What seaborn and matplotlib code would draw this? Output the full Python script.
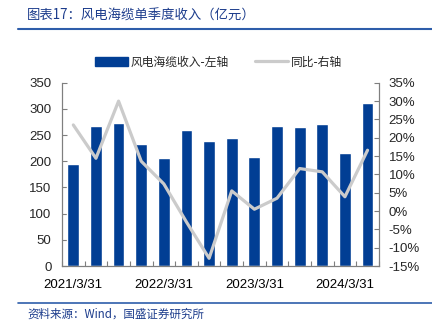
import matplotlib
matplotlib.use("Agg")
import matplotlib.pyplot as plt
import matplotlib.ticker as mticker
from matplotlib.lines import Line2D
from matplotlib.patches import Patch
import seaborn as sns
import pandas as pd
import numpy as np

# Quarterly offshore wind cable revenue (亿元) and YoY growth (%)
quarters = ["2021/3/31", "2021/6/30", "2021/9/30", "2021/12/31",
            "2022/3/31", "2022/6/30", "2022/9/30", "2022/12/31",
            "2023/3/31", "2023/6/30", "2023/9/30", "2023/12/31",
            "2024/3/31", "2024/6/30"]
revenue = [194, 267, 273, 233, 207, 259, 238, 245, 209, 268, 265, 271, 216, 311]
yoy_pct = [23.5, 14.4, 30.0, 13.6, 7.4, -3.0, -12.9, 5.5, 0.5, 3.5, 11.6, 10.7, 3.9, 16.6]
shown_labels = ["2021/3/31", "2022/3/31", "2023/3/31", "2024/3/31"]

bar_color = "#013E94"
line_color = "#CBCBCB"
title_color = "#1C3C8C"
rule_color = "#2E5DAA"
spine_color = "#7F7F7F"

sns.set_theme(style="white")
plt.rcParams["font.family"] = ["Liberation Sans", "Noto Sans CJK SC", "DejaVu Sans"]
cjk = ["Noto Sans CJK SC", "DejaVu Sans"]

df = pd.DataFrame({"quarter": quarters, "revenue": revenue,
                   "yoy": yoy_pct, "pos": np.arange(len(quarters))})

fig = plt.figure(figsize=(4.32, 3.26), dpi=100)
ax = fig.add_axes([0.1435, 0.184, 0.7335, 0.562])

sns.barplot(data=df, x="quarter", y="revenue", color=bar_color, width=0.52,
            saturation=1, ax=ax)
ax.set_xlim(-0.5, len(quarters) - 0.5)
ax.set_ylim(0, 350)
ax.set_yticks(np.arange(0, 351, 50))
ax.set_xlabel("")
ax.set_ylabel("")

ax2 = ax.twinx()
sns.lineplot(data=df, x="pos", y="yoy", color=line_color, linewidth=2.3,
             ax=ax2, legend=False)
ax2.set_xlim(-0.5, len(quarters) - 0.5)
ax2.set_ylim(-15, 35)
ax2.set_yticks(np.arange(-15, 36, 5))
ax2.yaxis.set_major_formatter(mticker.FuncFormatter(lambda v, p: f"{v:.0f}%"))
ax2.set_ylabel("")

# x labels only on the first quarter of each year
ax.set_xticks([quarters.index(q) for q in shown_labels])
ax.set_xticklabels(shown_labels)
ax.set_xticks(np.arange(-0.5, len(quarters), 1.0), minor=True)
ax.tick_params(axis="x", which="major", length=0, labelsize=9.5, pad=9.5, colors="black")
ax.tick_params(axis="x", which="minor", direction="in", length=3.5, width=0.8,
               color=spine_color, bottom=True)
ax.tick_params(axis="y", direction="in", length=3.5, width=0.8, color=spine_color,
               labelsize=9.5, pad=7.5, left=True)
ax2.tick_params(axis="y", direction="in", length=3.5, width=0.8, color=spine_color,
                labelsize=9.5, pad=7, right=True)

for a in (ax, ax2):
    a.spines["top"].set_visible(False)
    for s in ("left", "right", "bottom"):
        a.spines[s].set_color(spine_color)
        a.spines[s].set_linewidth(0.8)
ax.grid(False)
ax2.grid(False)

handles = [Patch(facecolor=bar_color, edgecolor=bar_color),
           Line2D([0], [0], color=line_color, linewidth=2.3)]
fig.legend(handles, ["风电海缆收入-左轴", "同比-右轴"], loc="center",
           bbox_to_anchor=(0.505, 0.81), ncol=2, frameon=False,
           prop={"family": cjk, "size": 8.5}, handlelength=2.8,
           handleheight=0.8, handletextpad=0.25, columnspacing=2.2)

fig.text(0.063, 0.952, "图表17：风电海缆单季度收入（亿元）", color=title_color,
         fontsize=9.6, family=cjk, style="italic", va="center", ha="left")
fig.add_artist(Line2D([0.042, 1.0], [0.911, 0.911], color=rule_color,
                      linewidth=1.5, transform=fig.transFigure))
fig.add_artist(Line2D([0.042, 1.0], [0.071, 0.071], color=rule_color,
                      linewidth=1.2, transform=fig.transFigure))
fig.text(0.063, 0.035, "资料来源：Wind，国盛证券研究所", color=title_color,
         fontsize=8.3, family=cjk, style="italic", va="center", ha="left")

fig.savefig("out.png", dpi=100, facecolor="white")
